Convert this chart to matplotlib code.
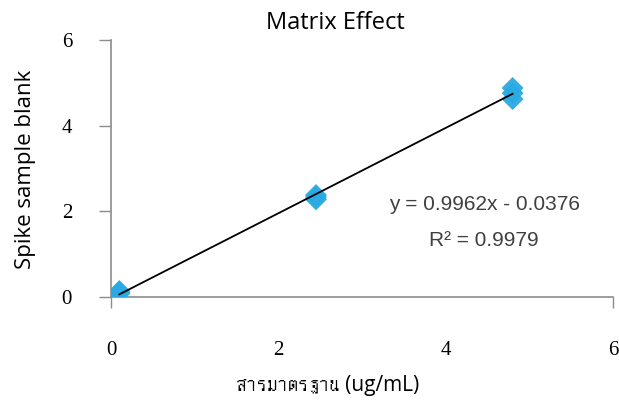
import matplotlib
matplotlib.use("Agg")
import matplotlib.pyplot as plt
from matplotlib import font_manager
from matplotlib.ft2font import FT2Font

# ---- data ----
x_std = [0.1, 0.1, 0.1, 2.45, 2.45, 2.45, 4.8, 4.8, 4.8]
y_spike = [0.08, 0.11, 0.14, 2.28, 2.33, 2.38, 4.62, 4.76, 4.88]
slope = 0.9962
intercept = -0.0376
r2 = 0.9979
x_ticks = [0, 2, 4, 6]
y_ticks = [0, 2, 4, 6]
title = "Matrix Effect"
xlabel = "สารมาตรฐาน (ug/mL)"
ylabel = "Spike sample blank"

# find a font with Thai glyphs
thai_family = None
for f in font_manager.findSystemFonts():
    try:
        ft = FT2Font(f)
        cm = ft.get_charmap()
        if 0x0E2A in cm and 0x0E23 in cm and 0x0E10 in cm:
            thai_family = font_manager.FontProperties(fname=f).get_name()
            break
    except Exception:
        pass
xl_family = ["Open Sans"] + ([thai_family] if thai_family else []) + ["DejaVu Sans"]

W, H = 619, 408
fig = plt.figure(figsize=(W / 100, H / 100), dpi=100)
ax = fig.add_axes([111 / W, 1 - 297 / H, 502 / W, 257 / H])

ax.scatter(x_std, y_spike, marker="D", s=125, color="#2AAAE2", edgecolors="none",
           zorder=3, alpha=0.95)
xs = [min(x_std), max(x_std)]
ax.plot(xs, [slope * v + intercept for v in xs], color="black", lw=1.3, zorder=4)

ax.set_xlim(0, 6)
ax.set_ylim(0, 6)
ax.set_xticks(x_ticks)
ax.set_yticks(y_ticks)
ax.set_xticklabels([str(v) for v in x_ticks], family=["Liberation Serif"], fontsize=15)
ax.set_yticklabels([str(v) for v in y_ticks], family=["Liberation Serif"], fontsize=15)
ax.tick_params(axis="x", length=8, width=1, color="#8c8c8c", pad=24)
ax.tick_params(axis="y", length=9, width=1, color="#8c8c8c", pad=19)
for i, t in enumerate(ax.xaxis.get_major_ticks()):
    if x_ticks[i] not in (0, 6):
        t.tick1line.set_visible(False)
for s in ["top", "right"]:
    ax.spines[s].set_visible(False)
for s in ["left", "bottom"]:
    ax.spines[s].set_color("#8c8c8c")
    ax.spines[s].set_linewidth(1.2)

fig.text(335 / W, 1 - 23 / H, title, family=["Open Sans", "DejaVu Sans"], fontsize=17,
         ha="center", va="center")
fig.text(26 / W, 1 - 169 / H, ylabel, family=["Open Sans", "DejaVu Sans"], fontsize=16,
         ha="center", va="center", rotation=90)
fig.text(328 / W, 1 - 385 / H, xlabel, family=xl_family, fontsize=15,
         ha="center", va="center")

ax.text(4.46, 2.17, f"y = {slope:.4f}x - {abs(intercept):.4f}", ha="center", va="center",
        fontsize=15, family=["Liberation Sans", "DejaVu Sans"], color="#404040")
ax.text(4.46, 1.33, f"R² = {r2:.4f}", ha="center", va="center",
        fontsize=15, family=["Liberation Sans", "DejaVu Sans"], color="#404040")

fig.savefig("out.png", dpi=100, facecolor="white")
